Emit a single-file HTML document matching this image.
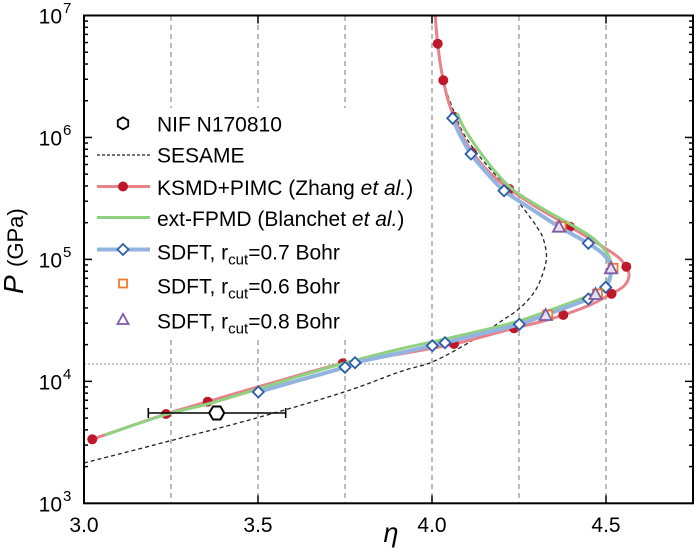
<!DOCTYPE html>
<html><head><meta charset="utf-8">
<style>
html,body{margin:0;padding:0;background:#fff;}
svg{display:block;}
text{font-family:"Liberation Sans",sans-serif;fill:#000;}
</style></head>
<body>
<svg id="s" width="700" height="555" viewBox="0 0 700 555" xmlns="http://www.w3.org/2000/svg">
<rect width="700" height="555" fill="#fff"/>
<g stroke="#7a7a7a" stroke-width="1" stroke-dasharray="5,4" fill="none">
<line x1="171" y1="16" x2="171" y2="503"/>
<line x1="258" y1="16" x2="258" y2="503"/>
<line x1="345" y1="16" x2="345" y2="503"/>
<line x1="432" y1="16" x2="432" y2="503"/>
<line x1="519" y1="16" x2="519" y2="503"/>
<line x1="606" y1="16" x2="606" y2="503"/>
</g>
<line x1="84" y1="364" x2="693" y2="364" stroke="#8a8a8a" stroke-width="1" stroke-dasharray="2,2"/>
<rect x="86" y="108" width="325" height="230" fill="#fff"/>
<g id="curves"></g>
<g id="marks"></g>
<!-- NIF point -->
<g stroke="#000" stroke-width="1.6" fill="none">
<line x1="148.3" y1="413" x2="285.7" y2="413"/>
<line x1="148.3" y1="408" x2="148.3" y2="418"/>
<line x1="285.7" y1="408" x2="285.7" y2="418"/>
</g>
<polygon points="224.2,413 220.5,419.5 213,419.5 209.2,413 213,406.5 220.5,406.5" fill="#fff" stroke="#000" stroke-width="2"/>
<!-- legend -->
<g>
<polygon points="123,117.3 128.2,120.3 128.2,126.3 123,129.3 117.8,126.3 117.8,120.3" fill="#fff" stroke="#000" stroke-width="1.8"/>
<line x1="97" y1="155" x2="150" y2="155" stroke="#222" stroke-width="1.2" stroke-dasharray="3,2"/>
<line x1="97" y1="186.5" x2="150" y2="186.5" stroke="#e8828a" stroke-width="3"/>
<circle cx="123" cy="186.5" r="5" fill="#c0182b"/>
<line x1="97" y1="217.5" x2="150" y2="217.5" stroke="#8fd17f" stroke-width="3"/>
<line x1="97" y1="249.5" x2="150" y2="249.5" stroke="#93b4e0" stroke-width="4"/>
<polygon points="123,244 128.5,249.5 123,255 117.5,249.5" fill="#fff" stroke="#2b5ea8" stroke-width="1.8"/>
<rect x="119" y="279.5" width="8" height="8" fill="#fff" stroke="#f07a2a" stroke-width="1.8"/>
<polygon points="123,314 128.5,324 117.5,324" fill="#fff" stroke="#7d5aa5" stroke-width="1.8"/>
<g font-size="21">
<text x="157" y="131.7">NIF N170810</text>
<text x="157" y="162.7">SESAME</text>
<text x="157" y="195">KSMD+PIMC (Zhang <tspan font-style="italic">et al.</tspan>)</text>
<text x="157" y="226">ext-FPMD (Blanchet <tspan font-style="italic">et al.</tspan>)</text>
<text x="157" y="259.3">SDFT, r<tspan font-size="15" dy="5">cut</tspan><tspan dy="-5">=0.7 Bohr</tspan></text>
<text x="157" y="293.3">SDFT, r<tspan font-size="15" dy="5">cut</tspan><tspan dy="-5">=0.6 Bohr</tspan></text>
<text x="157" y="328.3">SDFT, r<tspan font-size="15" dy="5">cut</tspan><tspan dy="-5">=0.8 Bohr</tspan></text>
</g>
</g>
<g id="ticks" stroke="#000" stroke-width="1.5"></g>
<rect x="84" y="15.5" width="609" height="487.8" fill="none" stroke="#000" stroke-width="2"/>
<!-- x tick labels -->
<g font-size="21" text-anchor="middle">
<text x="84" y="532">3.0</text>
<text x="258" y="532">3.5</text>
<text x="432" y="532">4.0</text>
<text x="606" y="532">4.5</text>
</g>
<text x="391" y="542" font-size="27" font-style="italic" text-anchor="middle">η</text>
<g id="ylabels"></g>
<text transform="translate(23,294) rotate(-90)" style="font-size:28px;font-style:italic">P</text>
<text transform="translate(23,267) rotate(-90)" style="font-size:22px">(GPa)</text>
</svg>
<script>
(function(){
var NS="http://www.w3.org/2000/svg";
function el(t,a,p){var e=document.createElementNS(NS,t);for(var k in a)e.setAttribute(k,a[k]);p.appendChild(e);return e;}
function cr(p){var d="M"+p[0][0]+","+p[0][1];for(var i=0;i<p.length-1;i++){var p0=p[i-1]||p[i],p1=p[i],p2=p[i+1],p3=p[i+2]||p2;
var c1=[p1[0]+(p2[0]-p0[0])/6,p1[1]+(p2[1]-p0[1])/6],c2=[p2[0]-(p3[0]-p1[0])/6,p2[1]-(p3[1]-p1[1])/6];
d+=" C"+c1[0].toFixed(2)+","+c1[1].toFixed(2)+" "+c2[0].toFixed(2)+","+c2[1].toFixed(2)+" "+p2[0]+","+p2[1];}return d;}
var C=document.getElementById("curves"),M=document.getElementById("marks");
var ses=[[84,463],[166.7,441.7],[259,417.3],[345,391.7],[400,371.7],[433.3,361.5],[473.3,340],[500,322],[520,308],[535,291],[543,273],[546.5,256],[543,238],[536.7,226.7],[527,213],[516.7,200],[500,180],[480,157],[463.3,133.3],[453.3,110],[446,90],[443,78],[440,62],[438.5,50]];
var red=[[435.3,15.5],[436.3,30],[437.7,43.7],[440,62],[443.3,80.3],[448,100],[454,117],[462,135],[472,152],[489,172],[509.3,189],[538,208],[570,226.7],[600,245],[618,257],[626.3,266.7],[629,276],[624,286],[611.5,293.8],[590,305],[563.3,315],[540,322],[514,328.3],[485,336],[454,344],[400,354],[342.7,363.3],[275,382],[207.7,401.7],[166,414],[92.3,439.3]];
var grn=[[457,113],[464,128],[475,145],[486,160],[496.7,173.3],[513.3,190],[540,207],[570,224],[590,236],[604,249],[611,262],[611,273],[605,284],[590,295],[545,312],[519,321],[480,331],[432,342],[400,349],[345,363],[300,376],[258,389],[207.7,404],[166,414.5],[105,435]];
var blu=[[452.7,118.3],[460,135],[471,154],[486,172],[504,190.7],[530,208],[559,226.7],[588.3,243.3],[603,254],[611,266],[610,278],[605.7,287.3],[595,294],[588.3,299],[570,306],[545.7,315],[519.3,324.3],[480,334],[445,342.7],[432.3,345.7],[400,353],[355,362.7],[345,367.3],[300,380],[258.3,392]];
el("path",{d:cr(ses),fill:"none",stroke:"#222","stroke-width":1.3,"stroke-dasharray":"4,3"},C);
el("path",{d:cr(red),fill:"none",stroke:"#e8828a","stroke-width":3,"stroke-linejoin":"round"},C);
var reddots=[[437.7,43.7],[443.3,80.3],[454,116.7],[472,152.5],[509.3,189],[570,226.7],[626.3,266.7],[611.5,293.8],[563.3,315],[514,328.3],[454,344],[342.7,363.3],[207.7,401.7],[166,414],[92.3,439.3]];
reddots.forEach(function(p){el("circle",{cx:p[0],cy:p[1],r:5,fill:"#c0182b"},C);});
el("path",{d:cr(grn),fill:"none",stroke:"#8fd17f","stroke-width":3,"stroke-linejoin":"round"},C);
el("path",{d:cr(blu),fill:"none",stroke:"#93b4e0","stroke-width":4,"stroke-linejoin":"round"},C);
var dia=[[452.7,118.3],[471,154],[504,190.7],[588.3,243.3],[605.7,287.3],[588.3,299],[519.3,324.3],[445,342.7],[432.3,345.7],[355,362.7],[345,367.3],[258.3,392]];
dia.forEach(function(p){var x=p[0],y=p[1],h=5.5;el("polygon",{points:x+","+(y-h)+" "+(x+h)+","+y+" "+x+","+(y+h)+" "+(x-h)+","+y,fill:"#fff",stroke:"#2b5ea8","stroke-width":1.8},M);});
var tri=[[559,226.7],[611,268.3],[595.5,294],[545.7,315]];
tri.forEach(function(p){el("rect",{x:p[0]-2.5,y:p[1]-4.5,width:9,height:9,fill:"#fff",stroke:"#f07a2a","stroke-width":1.8},M);});
tri.forEach(function(p){var x=p[0],y=p[1];el("polygon",{points:x+","+(y-6)+" "+(x+6)+","+(y+5)+" "+(x-6)+","+(y+5),fill:"#e6e0ee",stroke:"#7d5aa5","stroke-width":1.8},M);});
var T=document.getElementById("ticks"),Y=document.getElementById("ylabels");
var B=503.3,D=121.95;
for(var n=3;n<=7;n++){for(var m=1;m<=9;m++){if(n==7&&m>1)break;var y=B-(n-3+Math.log10(m))*D;var L=(m==1)?8:4;
el("line",{x1:84,y1:y,x2:84+L,y2:y},T);el("line",{x1:693,y1:y,x2:693-L,y2:y},T);}
var ty=B-(n-3)*D;
var t1=el("text",{x:62,y:(ty+8).toFixed(1),"font-size":21,"text-anchor":"end"},Y);t1.textContent="10";
var t2=el("text",{x:63,y:(ty-2.5).toFixed(1),"font-size":15},Y);t2.textContent=String(n);}
[258,432,606].forEach(function(x){el("line",{x1:x,y1:503.3,x2:x,y2:495.3},T);el("line",{x1:x,y1:15.5,x2:x,y2:23.5},T);});
})();
</script>
</body></html>
